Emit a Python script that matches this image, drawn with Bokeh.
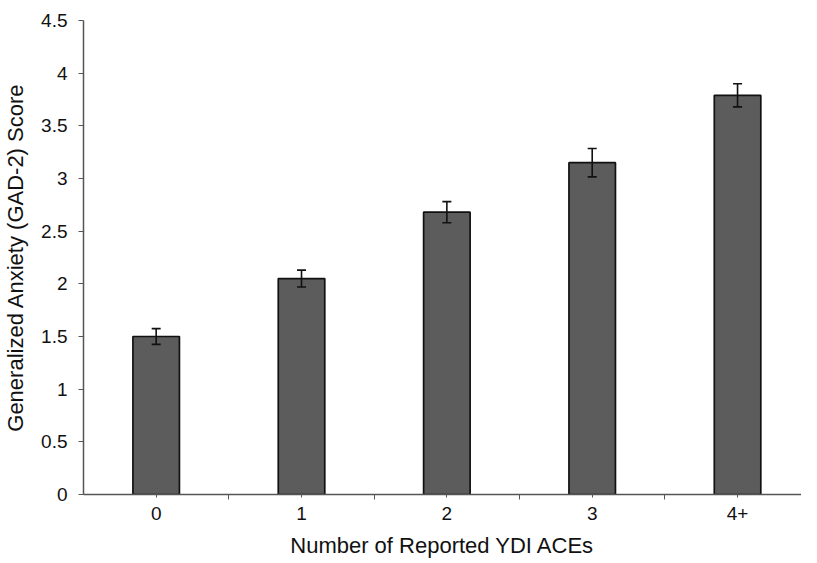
from bokeh.plotting import figure
from bokeh.models import (ColumnDataSource, Range1d, FixedTicker, NumeralTickFormatter,
                          Whisker, TeeHead)
from bokeh.embed import file_html
from bokeh.resources import INLINE

# ---- data ----
categories = ["0", "1", "2", "3", "4+"]
means = [1.50, 2.05, 2.68, 3.15, 3.79]
errors = [0.075, 0.08, 0.10, 0.135, 0.11]
y_ticks = [0, 0.5, 1, 1.5, 2, 2.5, 3, 3.5, 4, 4.5]
x_title = "Number of Reported YDI ACEs"
y_title = "Generalized Anxiety (GAD-2) Score"

xs = [i + 0.5 for i in range(len(categories))]
src = ColumnDataSource(dict(
    x=xs,
    mean=means,
    upper=[m + e for m, e in zip(means, errors)],
    lower=[m - e for m, e in zip(means, errors)],
))

FONT = "Liberation Sans"

p = figure(width=801, height=562, output_backend="svg", toolbar_location=None,
           x_range=Range1d(0, 4.94), y_range=Range1d(0, 4.5),
           min_border_left=76, min_border_right=0, min_border_top=20,
           min_border_bottom=68)
p.outline_line_color = None
p.xgrid.visible = False
p.ygrid.visible = False
p.background_fill_color = "white"
p.border_fill_color = "white"

p.vbar(x="x", top="mean", width=0.32, source=src,
       fill_color="#5c5c5c", line_color="#111111", line_width=1.7)

w = Whisker(base="x", upper="upper", lower="lower", source=src,
            line_color="#111111", line_width=1.6, level="overlay",
            upper_head=TeeHead(size=9, line_color="#111111", line_width=1.6),
            lower_head=TeeHead(size=9, line_color="#111111", line_width=1.6))
p.add_layout(w)

# y axis
ya = p.yaxis[0]
ya.ticker = FixedTicker(ticks=y_ticks)
ya.formatter = NumeralTickFormatter(format="0.[0]")
ya.axis_line_color = "#555555"
ya.axis_line_width = 1.5
ya.major_tick_in = 0
ya.major_tick_out = 5
ya.major_tick_line_color = "#555555"
ya.minor_tick_line_color = None
ya.major_label_text_font = FONT
ya.major_label_text_font_size = "19px"
ya.major_label_text_color = "#111111"
ya.major_label_standoff = 11
ya.axis_label = y_title
ya.axis_label_text_font = FONT
ya.axis_label_text_font_size = "22px"
ya.axis_label_text_font_style = "normal"
ya.axis_label_text_color = "#111111"
ya.axis_label_standoff = 10

# x axis
xa = p.xaxis[0]
xa.ticker = FixedTicker(ticks=xs, minor_ticks=[1, 2, 3, 4, 5])
xa.major_label_overrides = {x: c for x, c in zip(xs, categories)}
xa.axis_line_color = "#555555"
xa.axis_line_width = 1.5
xa.major_tick_in = 0
xa.major_tick_out = 3
xa.minor_tick_in = 0
xa.minor_tick_out = 5
xa.major_tick_line_color = "#555555"
xa.minor_tick_line_color = "#555555"
xa.major_label_text_font = FONT
xa.major_label_text_font_size = "19px"
xa.major_label_text_color = "#111111"
xa.major_label_standoff = 7
xa.axis_label = x_title
xa.axis_label_text_font = FONT
xa.axis_label_text_font_size = "22px"
xa.axis_label_text_font_style = "normal"
xa.axis_label_text_color = "#111111"
xa.axis_label_standoff = 10

open("out.html", "w").write(file_html(p, INLINE))
